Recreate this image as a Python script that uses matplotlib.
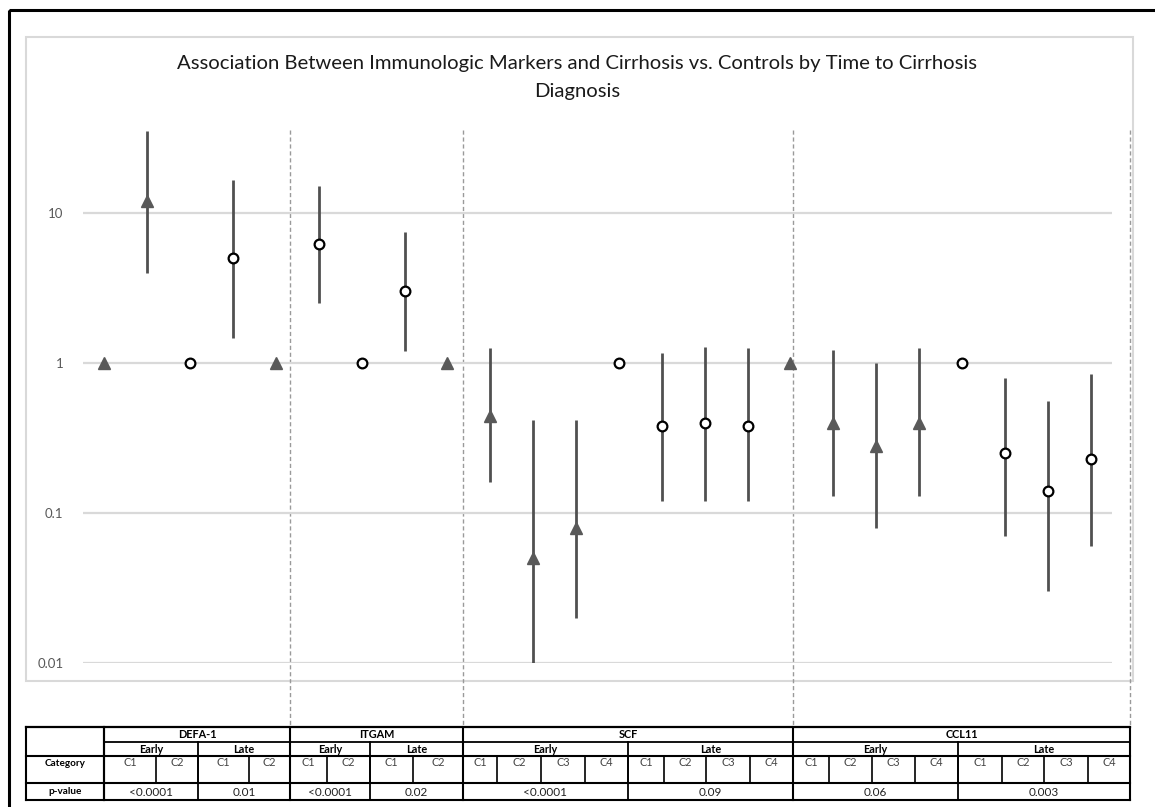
import numpy as np
import matplotlib
matplotlib.use("Agg")
import matplotlib.pyplot as plt
from matplotlib.patches import Rectangle
from matplotlib.ticker import NullLocator

plt.rcParams["font.family"] = ["Lato", "DejaVu Sans"]

W, H = 1155, 807

# ---- data ----
markers = ["DEFA-1", "ITGAM", "SCF", "CCL11"]
n_cats = [2, 2, 4, 4]                      # categories per time window, per marker
times = ["Early", "Late"]
p_values = ["<0.0001", "0.01", "<0.0001", "0.02", "<0.0001", "0.09", "0.06", "0.003"]

odds = [1, 12, 1, 5.0, 1, 6.2, 1, 3.0,
        1, 0.44, 0.05, 0.08, 1, 0.38, 0.40, 0.38,
        1, 0.40, 0.28, 0.40, 1, 0.25, 0.14, 0.23]
ci_lo = [np.nan, 4.0, np.nan, 1.47, np.nan, 2.5, np.nan, 1.2,
         np.nan, 0.16, 0.01, 0.02, np.nan, 0.12, 0.12, 0.12,
         np.nan, 0.13, 0.08, 0.13, np.nan, 0.07, 0.03, 0.06]
ci_hi = [np.nan, 35, np.nan, 16.6, np.nan, 15.2, np.nan, 7.5,
         np.nan, 1.26, 0.42, 0.42, np.nan, 1.16, 1.28, 1.25,
         np.nan, 1.23, 1.0, 1.25, np.nan, 0.80, 0.555, 0.845]
symbol = ["^", "^", "o", "o", "^", "o", "o", "o",
          "^", "^", "^", "^", "o", "o", "o", "o",
          "^", "^", "^", "^", "o", "o", "o", "o"]
yticks = [0.01, 0.1, 1, 10]
ytick_labels = ["0.01", "0.1", "1", "10"]

# ---- table layout (pixels) ----
tab_left, lab_right = 26, 104
col_edges = [104, 156, 198, 249, 290,
             327, 370, 413, 463,
             497, 541, 585, 628, 664, 706, 750, 793,
             829, 872, 915, 958, 1002, 1044, 1088, 1130]
row_y = [727, 742, 756, 783, 800]

fig = plt.figure(figsize=(W / 100, H / 100), dpi=100)

# overlay in pixel coords for frames, title, table
ov = fig.add_axes([0, 0, 1, 1], zorder=0)
ov.set_xlim(0, W); ov.set_ylim(H, 0); ov.axis("off")
ov.add_patch(Rectangle((9, 10), 1170, 820, fill=False, ec="black", lw=2.2, clip_on=False))
ov.add_patch(Rectangle((26, 37), 1107, 644, fill=False, ec="#d9d9d9", lw=1.5))
ov.text(577, 64, "Association Between Immunologic Markers and Cirrhosis vs. Controls by Time to Cirrhosis",
        ha="center", va="center", fontsize=14.6, color="#1a1a1a")
ov.text(577, 91, "Diagnosis", ha="center", va="center", fontsize=14.6, color="#1a1a1a")

# ---- forest plot ----
ax = fig.add_axes([83 / W, 1 - 663 / H, (1112 - 83) / W, (663 - 125) / H], zorder=1)
ax.patch.set_alpha(0)
ax.set_yscale("log")
ax.set_ylim(0.01, 38.6)
ax.set_xlim(-0.5, len(odds) - 0.5)
for v in yticks:
    ax.axhline(v, color="#d9d9d9", lw=1.6, zorder=0)
ax.set_yticks(yticks)
ax.set_yticklabels(ytick_labels)
ax.yaxis.set_minor_locator(NullLocator())
ax.tick_params(axis="y", length=0, pad=14, labelsize=9.5, labelcolor="#595959")
ax.set_xticks([])
for s in ax.spines.values():
    s.set_visible(False)

x = np.arange(len(odds))
for i in x:
    if not np.isnan(ci_lo[i]):
        ax.vlines(i, ci_lo[i], ci_hi[i], color="#505050", lw=2, zorder=2)
    if symbol[i] == "^":
        ax.plot(i, odds[i], marker="^", ms=8, color="#595959", zorder=3)
    else:
        ax.plot(i, odds[i], marker="o", ms=7, mfc="white", mec="black", mew=1.6, zorder=3)

# ---- table ----
grp_edges = [104]
time_edges = [104]
pos = 0
for n in n_cats:
    pos += 2 * n
    grp_edges.append(col_edges[pos])
k = 0
for n in n_cats:
    for _ in times:
        k += n
        time_edges.append(col_edges[k])

# dashed separators above the marker groups
for gx in grp_edges[1:]:
    ov.plot([gx, gx], [130, row_y[0]], color="#9a9a9a", lw=1, ls=(0, (3, 2)), zorder=1)

lc = "black"
ov.plot([tab_left, col_edges[-1]], [row_y[0]] * 2, color=lc, lw=1.6)
ov.plot([lab_right, col_edges[-1]], [row_y[1]] * 2, color=lc, lw=1.3)
for y in row_y[2:]:
    ov.plot([tab_left, col_edges[-1]], [y, y], color=lc, lw=1.5)
for gx in [tab_left, lab_right] + grp_edges:
    ov.plot([gx, gx], [row_y[0], row_y[-1]], color=lc, lw=1.5)
for tx in time_edges:
    ov.plot([tx, tx], [row_y[1], row_y[-1]], color=lc, lw=1.3)
for cx in col_edges:
    ov.plot([cx, cx], [row_y[2], row_y[3]], color=lc, lw=1.2)

for g, name in enumerate(markers):
    ov.text((grp_edges[g] + grp_edges[g + 1]) / 2, (row_y[0] + row_y[1]) / 2 + 0.5, name,
            ha="center", va="center", fontsize=7.8, fontweight="bold")
for t in range(len(time_edges) - 1):
    ov.text((time_edges[t] + time_edges[t + 1]) / 2, (row_y[1] + row_y[2]) / 2 + 0.5, times[t % 2],
            ha="center", va="center", fontsize=7.8, fontweight="bold")
    ov.text((time_edges[t] + time_edges[t + 1]) / 2, (row_y[3] + row_y[4]) / 2 + 0.5, p_values[t],
            ha="center", va="center", fontsize=8.5, color="#222222")
k = 0
for n in n_cats:
    for _ in times:
        for c in range(n):
            ov.text((col_edges[k] + col_edges[k + 1]) / 2, 763, f"C{c + 1}",
                    ha="center", va="center", fontsize=7.8, color="#444444")
            k += 1
ov.text((tab_left + lab_right) / 2, 763, "Category", ha="center", va="center",
        fontsize=7.2, fontweight="bold")
ov.text((tab_left + lab_right) / 2, (row_y[3] + row_y[4]) / 2 + 0.5, "p-value", ha="center",
        va="center", fontsize=7.2, fontweight="bold")

fig.savefig("out.png", dpi=100)
